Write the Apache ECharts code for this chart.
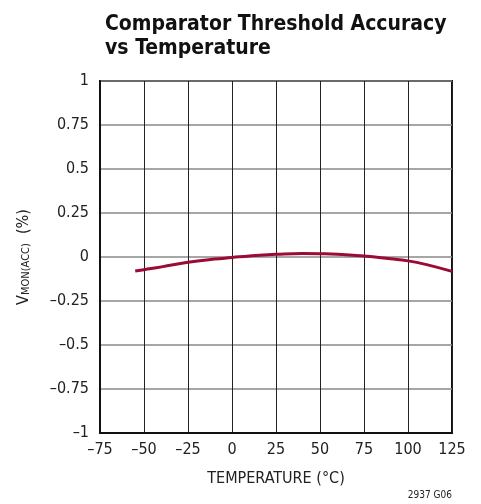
<!DOCTYPE html>
<html><head><meta charset="utf-8">
<script src="https://cdn.jsdelivr.net/npm/echarts@6/dist/echarts.min.js"></script>
<style>html,body{margin:0;padding:0;background:#fff}#c{width:481px;height:504px}</style>
</head><body><div id="c"></div>
<script>
const temps = [-55, -50, -40, -25, -10, 0, 10, 25, 40, 50, 60, 75, 90, 100, 110, 125];
const accuracy = [-0.080, -0.072, -0.056, -0.030, -0.012, -0.003, 0.006, 0.015, 0.020, 0.019, 0.016, 0.006, -0.010, -0.022, -0.042, -0.082];
const xTicks = [-75, -50, -25, 0, 25, 50, 75, 100, 125];
const yTicks = [-1, -0.75, -0.5, -0.25, 0, 0.25, 0.5, 0.75, 1];
const FONT = '"Liberation Sans Narrow", "DejaVu Sans Condensed", "Liberation Sans", sans-serif';
const chart = echarts.init(document.getElementById('c'));
chart.setOption({
  animation: false,
  title: {
    text: 'Comparator Threshold Accuracy\nvs Temperature',
    left: 100, top: 8,
    textStyle: {fontFamily: FONT, fontWeight: 'bold', fontSize: 21, lineHeight: 24, color: '#111'}
  },
  graphic: [{
    type: 'text', right: 29, top: 490,
    style: {text: '2937 G06', fontFamily: FONT, fontSize: 10, fill: '#222'}
  }],
  grid: {left: 100, top: 81, width: 352, height: 352, show: true, borderColor: '#111', borderWidth: 2, backgroundColor: 'transparent'},
  xAxis: {
    type: 'value', min: -75, max: 125, interval: 25,
    name: 'TEMPERATURE (°C)', nameLocation: 'middle', nameGap: 38,
    nameTextStyle: {fontFamily: FONT, fontSize: 16, color: '#222'},
    axisLine: {show: true, onZero: false, lineStyle: {color: '#111', width: 2}},
    axisTick: {show: false},
    axisLabel: {fontFamily: FONT, fontSize: 16, color: '#222', margin: 9,
      formatter: v => String(v).replace('-', '\u2013')},
    splitLine: {show: true, lineStyle: {color: '#222', width: 1}}
  },
  yAxis: {
    type: 'value', min: -1, max: 1, interval: 0.25,
    name: '{v|V}{s|MON(ACC)}{v|  (%)}', nameLocation: 'middle', nameGap: 68, nameRotate: 90,
    nameTextStyle: {
      fontFamily: FONT, color: '#222',
      rich: {
        v: {fontFamily: FONT, fontSize: 16, color: '#222'},
        s: {fontFamily: FONT, fontSize: 11, color: '#222', verticalAlign: 'bottom', padding: [6, 0, 0, 0]}
      }
    },
    axisLine: {show: true, onZero: false, lineStyle: {color: '#111', width: 2}},
    axisTick: {show: false},
    axisLabel: {fontFamily: FONT, fontSize: 16, color: '#222', margin: 11,
      formatter: v => String(v).replace('-', '\u2013')},
    splitLine: {show: true, lineStyle: {color: '#888', width: 1.5}}
  },
  series: [{
    type: 'line', smooth: true, showSymbol: false,
    data: temps.map((t, i) => [t, accuracy[i]]),
    lineStyle: {color: '#9b0b35', width: 3}
  }]
});
</script></body></html>
